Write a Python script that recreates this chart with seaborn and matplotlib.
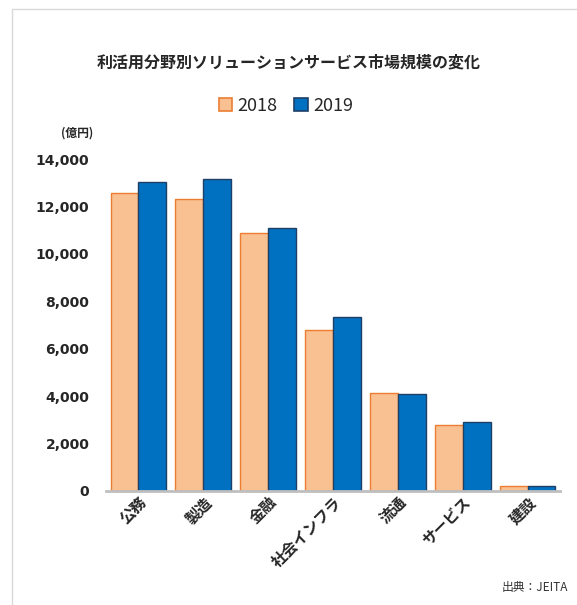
import numpy as np
import pandas as pd
import matplotlib
matplotlib.use("Agg")
import matplotlib.pyplot as plt
from matplotlib.patches import Patch, Rectangle
import seaborn as sns

categories = ["公務", "製造", "金融", "社会インフラ", "流通", "サービス", "建設"]
years = ["2018", "2019"]
values_2018 = [12550, 12300, 10890, 6780, 4150, 2790, 190]
values_2019 = [13020, 13150, 11080, 7320, 4110, 2910, 190]

df = pd.DataFrame({
    "分野": categories * 2,
    "年": ["2018"] * len(categories) + ["2019"] * len(categories),
    "市場規模": values_2018 + values_2019,
})

fill_colors = {"2018": "#F9C191", "2019": "#0070C0"}
edge_colors = {"2018": "#ED7D31", "2019": "#1F3F66"}

sns.set_style("white")
plt.rcParams["font.family"] = ["Noto Sans CJK JP", "DejaVu Sans"]

fig = plt.figure(figsize=(5.77, 6.05), dpi=100)
ax = fig.add_axes([106 / 577, 1 - 491 / 605, (560 - 106) / 577, (491 - 159) / 605])

sns.barplot(data=df, x="分野", y="市場規模", hue="年", palette=fill_colors,
            width=0.86, gap=0, ax=ax, legend=False, saturation=1)
for cont, yr in zip(ax.containers, years):
    for bar in cont:
        bar.set_edgecolor(edge_colors[yr])
        bar.set_linewidth(1.0)

ax.set_ylim(0, 14000)
ax.set_xlim(-0.5, len(categories) - 0.5)
ax.set_yticks(np.arange(0, 14001, 2000))
ax.set_yticklabels([f"{int(v):,}" for v in np.arange(0, 14001, 2000)],
                   fontsize=10, fontweight="bold", family="DejaVu Sans")
ax.tick_params(axis="y", length=0, pad=12)
ax.tick_params(axis="x", length=0, pad=2)
ax.set_xticks(range(len(categories)))
ax.set_xticklabels(categories, rotation=45, ha="right", rotation_mode="anchor",
                   fontsize=11, fontweight="bold")
ax.set_xlabel("")
ax.set_ylabel("")
for s in ["top", "right", "left"]:
    ax.spines[s].set_visible(False)
ax.spines["bottom"].set_color("#BFBFBF")
ax.spines["bottom"].set_linewidth(2)

fig.text(0.5, 1 - 62 / 605, "利活用分野別ソリューションサービス市場規模の変化",
         ha="center", va="center", fontsize=11.5, fontweight="bold")
fig.text(93 / 577, 1 - 133 / 605, "(億円)", ha="right", va="center",
         fontsize=8.5, fontweight="bold")
fig.text(568 / 577, 1 - 588 / 605, "出典：JEITA", ha="right", va="center",
         fontsize=8.5, color="#333333")

handles = [Patch(facecolor=fill_colors[y], edgecolor=edge_colors[y], linewidth=1.2) for y in years]
fig.legend(handles, years, loc="center", bbox_to_anchor=(286 / 577, 1 - 106 / 605),
           ncol=2, frameon=False, fontsize=13, handlelength=0.75, handleheight=0.75,
           handletextpad=0.3, columnspacing=0.9)

fig.add_artist(Rectangle((12 / 577, -0.1), 1.2, 1 - 9 / 605 + 0.1,
                         transform=fig.transFigure, fill=False,
                         edgecolor="#D9D9D9", linewidth=1))

fig.savefig("out.png", dpi=100)
